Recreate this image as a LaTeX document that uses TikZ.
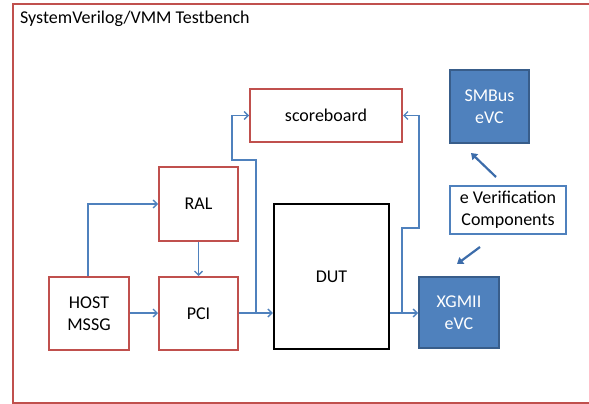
\documentclass[tikz,border=0pt]{standalone}
\usepackage{fontspec}
\setmainfont{Carlito}
\usetikzlibrary{arrows.meta,calc}
\definecolor{ored}{HTML}{C0504D}
\definecolor{oblue}{HTML}{4F81BD}
\definecolor{oblued}{HTML}{385D8A}
\definecolor{arrblue}{HTML}{3C6CAA}
\begin{document}
\begin{tikzpicture}[x=1pt,y=-1pt,
  txt/.style={font=\fontsize{18}{22}\selectfont},
  redbox/.style={txt,draw=ored,line width=2pt,fill=white,inner sep=0pt,align=center},
  bluebox/.style={txt,draw=oblued,line width=2pt,fill=oblue,inner sep=0pt,align=center,text=white},
  conn/.style={draw=oblue,line width=1.3pt,-{Straight Barb[length=4pt,width=8pt,line width=1.3pt]}},
  bigarr/.style={draw=arrblue,line width=2.2pt,-{Triangle[length=6pt,width=8pt]}}]
\useasboundingbox (0,0) rectangle (589,404);
\draw[ored,line width=2pt] (13,4) rectangle (595,403);
\node[font=\fontsize{18}{22}\selectfont,anchor=west,inner sep=0pt] (title) at (20,18.5) {SystemVerilog/VMM Testbench};

\node[redbox,minimum width=152pt,minimum height=53pt] (sb) at (326,115.5) {scoreboard};
\node[bluebox,minimum width=79pt,minimum height=73pt] (smb) at (489.5,106.5) {SMBus\\eVC};
\node[txt,draw=oblue,line width=2pt,fill=white,inner sep=0pt,align=center,minimum width=116pt,minimum height=48pt] (ev) at (508,210) {e Verification\\Components};
\node[txt,draw=black,line width=2.5pt,fill=white,inner sep=0pt,minimum width=115pt,minimum height=145pt] (dut) at (331.5,276.5) {DUT};
\node[bluebox,minimum width=80pt,minimum height=71pt] (xg) at (459,312.5) {XGMII\\eVC};
\node[redbox,minimum width=79pt,minimum height=74pt] (ral) at (198.5,204) {RAL};
\node[redbox,minimum width=79pt,minimum height=73pt] (pci) at (198.5,313.5) {PCI};
\node[redbox,minimum width=80pt,minimum height=73pt] (host) at (89,313.5) {HOST\\MSSG};

\coordinate (j1) at (256,313);
\coordinate (b1) at (256,160);
\coordinate (b2) at (232,160);
\coordinate (j2) at (402,313);
\coordinate (c1) at (402,228);
\coordinate (c2) at (419,228);
\coordinate (e1) at (496,177);
\coordinate (e2) at (471,153);
\coordinate (f1) at (480,247);
\coordinate (f2) at (457,264);

\draw[conn] (host.east |- 0,313) -- (pci.west |- 0,313);
\draw[conn] (host.north -| 88,0) |- (ral.west);
\draw[conn] (ral.south) -- (pci.north);
\draw[conn] (pci.east |- 0,313) -- (dut.west |- 0,313);
\draw[conn] (j1) -- (b1) -- (b2) |- (sb.west);
\draw[conn] (dut.east |- 0,313) -- (xg.west |- 0,313);
\draw[conn] (j2) -- (c1) -- (c2) |- (sb.east);
\draw[bigarr] (e1) -- (e2);
\draw[bigarr] (f1) -- (f2);
\end{tikzpicture}
\end{document}
